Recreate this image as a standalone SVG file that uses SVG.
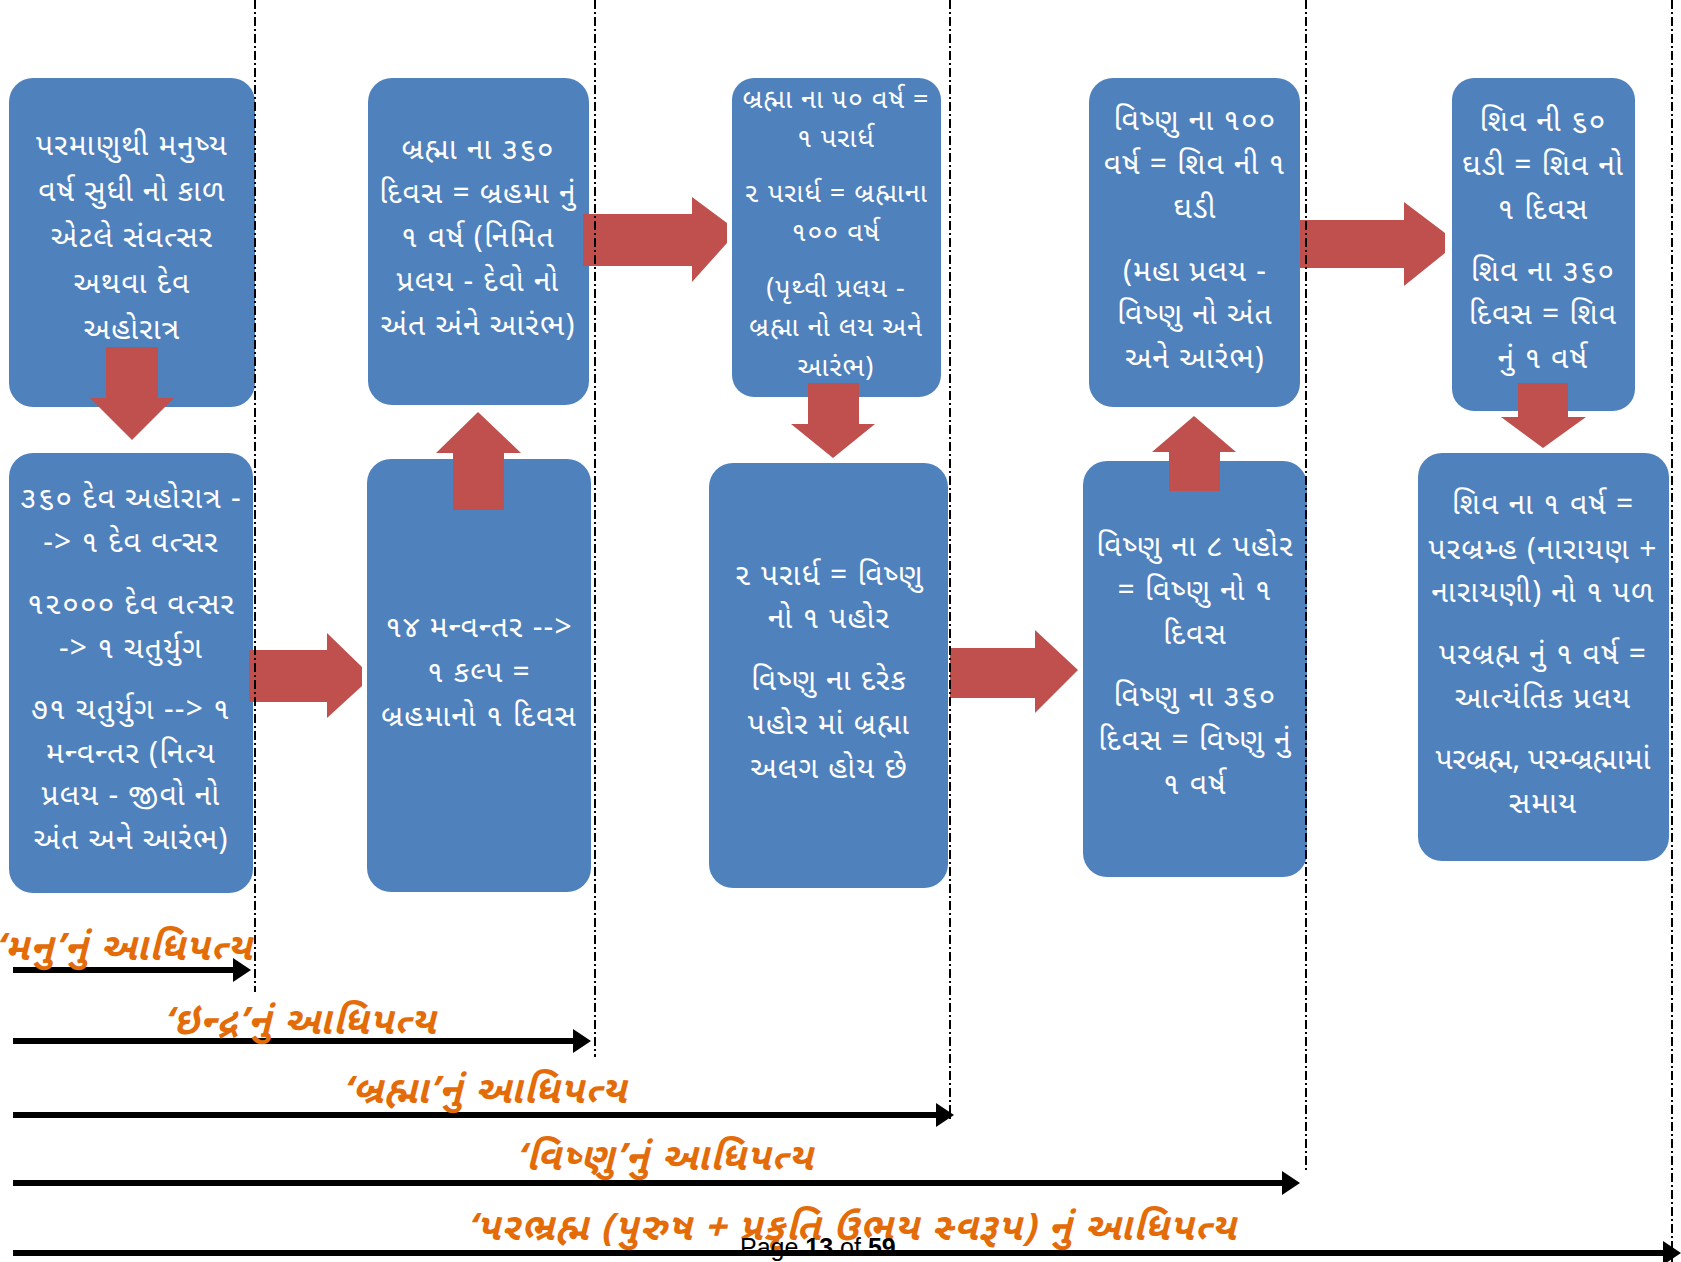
<svg xmlns="http://www.w3.org/2000/svg" width="1681" height="1262" viewBox="0 0 1681 1262">
<style>
.box{fill:#4F81BD;}
.bt{fill:#FFFFFF;font-family:"Noto Sans Gujarati","Lohit Gujarati","Noto Sans",sans-serif;font-size:30px;letter-spacing:1.2px;text-anchor:middle;}
.bs{font-size:27px;letter-spacing:1px;}
.blk{fill:#C0504D;}
.dash{stroke:#000;stroke-width:2;stroke-dasharray:9 3 2 3;fill:none;}
.tl{stroke:#000;stroke-width:6;fill:none;}
.lab{fill:#E36C09;font-family:"Noto Sans Gujarati","Lohit Gujarati","Noto Sans",sans-serif;font-size:38px;letter-spacing:1.5px;font-style:italic;font-weight:bold;text-anchor:middle;}
.pg{fill:#000;font-family:"Liberation Sans",Arial,sans-serif;font-size:25px;}
</style>
<defs>
<marker id="ah" markerWidth="4" markerHeight="4" refX="0" refY="2" orient="auto" markerUnits="strokeWidth"><path d="M0,0 L3,2 L0,4 Z" fill="#000"/></marker>
</defs>

<g id="nodeA"><rect class="box" x="9" y="78" width="246" height="329" rx="24"/>
<text class="bt"><tspan x="132" y="155">પરમાણુથી મનુષ્ય</tspan><tspan x="132" y="201">વર્ષ સુધી નો કાળ</tspan><tspan x="132" y="247">એટલે સંવત્સર</tspan><tspan x="132" y="293">અથવા દેવ</tspan><tspan x="132" y="339">અહોરાત્ર</tspan></text></g>

<g id="nodeB"><rect class="box" x="9" y="453" width="244" height="440" rx="24"/>
<text class="bt"><tspan x="131" y="508">૩૬૦ દેવ અહોરાત્ર -</tspan><tspan x="131" y="552">-&gt; ૧ દેવ વત્સર</tspan><tspan x="131" y="614">૧૨૦૦૦ દેવ વત્સર</tspan><tspan x="131" y="658">-&gt; ૧ ચતુર્યુગ</tspan><tspan x="131" y="719">૭૧ ચતુર્યુગ --&gt; ૧</tspan><tspan x="131" y="763">મન્વન્તર (નિત્ય</tspan><tspan x="131" y="805">પ્રલય - જીવો નો</tspan><tspan x="131" y="849">અંત અને આરંભ)</tspan></text></g>

<g id="nodeC"><rect class="box" x="368" y="78" width="221" height="327" rx="24"/>
<text class="bt"><tspan x="478" y="159">બ્રહ્મા ના ૩૬૦</tspan><tspan x="478" y="203">દિવસ = બ્રહમા નું</tspan><tspan x="478" y="247">૧ વર્ષ (નિમિત</tspan><tspan x="478" y="291">પ્રલય - દેવો નો</tspan><tspan x="478" y="335">અંત અંને આરંભ)</tspan></text></g>

<g id="nodeD"><rect class="box" x="367" y="459" width="224" height="433" rx="24"/>
<text class="bt"><tspan x="479" y="637">૧૪ મન્વન્તર --&gt;</tspan><tspan x="479" y="682">૧ કલ્પ =</tspan><tspan x="479" y="726">બ્રહમાનો ૧ દિવસ</tspan></text></g>

<g id="nodeE"><rect class="box" x="732" y="78" width="209" height="319" rx="22"/>
<text class="bt bs"><tspan x="836" y="108">બ્રહ્મા ના ૫૦ વર્ષ =</tspan><tspan x="836" y="147">૧ પરાર્ધ</tspan><tspan x="836" y="202">૨ પરાર્ધ = બ્રહ્માના</tspan><tspan x="836" y="241">૧૦૦ વર્ષ</tspan><tspan x="836" y="297">(પૃથ્વી પ્રલય -</tspan><tspan x="836" y="336">બ્રહ્મા નો લય અને</tspan><tspan x="836" y="376">આરંભ)</tspan></text></g>

<g id="nodeF"><rect class="box" x="709" y="463" width="239" height="425" rx="24"/>
<text class="bt"><tspan x="829" y="585">૨ પરાર્ધ = વિષ્ણુ</tspan><tspan x="829" y="628">નો ૧ પહોર</tspan><tspan x="829" y="690">વિષ્ણુ ના દરેક</tspan><tspan x="829" y="734">પહોર માં બ્રહ્મા</tspan><tspan x="829" y="778">અલગ હોય છે</tspan></text></g>

<g id="nodeG"><rect class="box" x="1089" y="78" width="211" height="329" rx="24"/>
<text class="bt"><tspan x="1195" y="130">વિષ્ણુ ના ૧૦૦</tspan><tspan x="1195" y="174">વર્ષ = શિવ ની ૧</tspan><tspan x="1195" y="218">ઘડી</tspan><tspan x="1195" y="281">(મહા પ્રલય -</tspan><tspan x="1195" y="324">વિષ્ણુ નો અંત</tspan><tspan x="1195" y="368">અને આરંભ)</tspan></text></g>

<g id="nodeH"><rect class="box" x="1083" y="461" width="224" height="416" rx="24"/>
<text class="bt"><tspan x="1195" y="556">વિષ્ણુ ના ૮ પહોર</tspan><tspan x="1195" y="600">= વિષ્ણુ નો ૧</tspan><tspan x="1195" y="644">દિવસ</tspan><tspan x="1195" y="706">વિષ્ણુ ના ૩૬૦</tspan><tspan x="1195" y="750">દિવસ = વિષ્ણુ નું</tspan><tspan x="1195" y="794">૧ વર્ષ</tspan></text></g>

<g id="nodeI"><rect class="box" x="1452" y="78" width="183" height="333" rx="22"/>
<text class="bt"><tspan x="1543" y="131">શિવ ની ૬૦</tspan><tspan x="1543" y="175">ઘડી = શિવ નો</tspan><tspan x="1543" y="219">૧ દિવસ</tspan><tspan x="1543" y="281">શિવ ના ૩૬૦</tspan><tspan x="1543" y="324">દિવસ = શિવ</tspan><tspan x="1543" y="368">નું ૧ વર્ષ</tspan></text></g>

<g id="nodeJ"><rect class="box" x="1418" y="453" width="251" height="408" rx="24"/>
<text class="bt"><tspan x="1543" y="514">શિવ ના ૧ વર્ષ =</tspan><tspan x="1543" y="559">પરબ્રમ્હ (નારાયણ +</tspan><tspan x="1543" y="602">નારાયણી) નો ૧ પળ</tspan><tspan x="1543" y="664">પરબ્રહ્મ નું ૧ વર્ષ =</tspan><tspan x="1543" y="708">આત્યંતિક પ્રલય</tspan><tspan x="1543" y="769" letter-spacing="0">પરબ્રહ્મ, પરમ્બ્રહ્મામાં</tspan><tspan x="1543" y="813">સમાય</tspan></text></g>

<g id="connectors">
<polygon class="blk" points="106,347 158,347 158,398 174,398 132,440 90,398 106,398"/>
<polygon class="blk" points="249,650 327,650 327,633 362,667 362,686 327,718 327,702 249,702"/>
<polygon class="blk" points="453,510 453,453 436,453 478,412 521,453 504,453 504,510"/>
<polygon class="blk" points="583,214 692,214 692,197 727,223 727,243 692,282 692,266 583,266"/>
<polygon class="blk" points="808,383 859,383 859,424 875,424 833,458 791,424 808,424"/>
<polygon class="blk" points="950,648 1035,648 1035,630 1078,670 1035,713 1035,698 950,698"/>
<polygon class="blk" points="1169,491 1169,452 1152,452 1194,416 1236,452 1220,452 1220,491"/>
<polygon class="blk" points="1300,220 1404,220 1404,202 1445,233 1445,253 1404,286 1404,268 1300,268"/>
<polygon class="blk" points="1518,383 1568,383 1568,417 1586,417 1543,448 1501,417 1518,417"/>

<line class="dash" x1="255" y1="0" x2="255" y2="992"/>
<line class="dash" x1="595" y1="0" x2="595" y2="1057"/>
<line class="dash" x1="950" y1="0" x2="950" y2="1120"/>
<line class="dash" x1="1306" y1="0" x2="1306" y2="1171"/>
<line class="dash" x1="1672" y1="0" x2="1672" y2="1262"/>

<line class="tl" x1="13" y1="970" x2="233" y2="970" marker-end="url(#ah)"/>
<line class="tl" x1="13" y1="1041" x2="573" y2="1041" marker-end="url(#ah)"/>
<line class="tl" x1="13" y1="1115" x2="936" y2="1115" marker-end="url(#ah)"/>
<line class="tl" x1="13" y1="1183" x2="1282" y2="1183" marker-end="url(#ah)"/>
<line class="tl" x1="13" y1="1253" x2="1663" y2="1253" marker-end="url(#ah)"/>

<text class="lab" x="124" y="960">‘મનુ’નું આધિપત્ય</text>
<text class="lab" x="300" y="1034">‘ઇન્દ્ર’નું આધિપત્ય</text>
<text class="lab" x="485" y="1103">‘બ્રહ્મા’નું આધિપત્ય</text>
<text class="lab" x="665" y="1170">‘વિષ્ણુ’નું આધિપત્ય</text>
<text class="lab" x="852" y="1240">‘પરભ્રહ્મ (પુરુષ + પ્રકૃતિ ઉભય સ્વરૂપ) નું આધિપત્ય</text>
</g>
<text class="pg" x="740" y="1256">Page <tspan font-weight="bold">13</tspan> of <tspan font-weight="bold">59</tspan></text>
</svg>
